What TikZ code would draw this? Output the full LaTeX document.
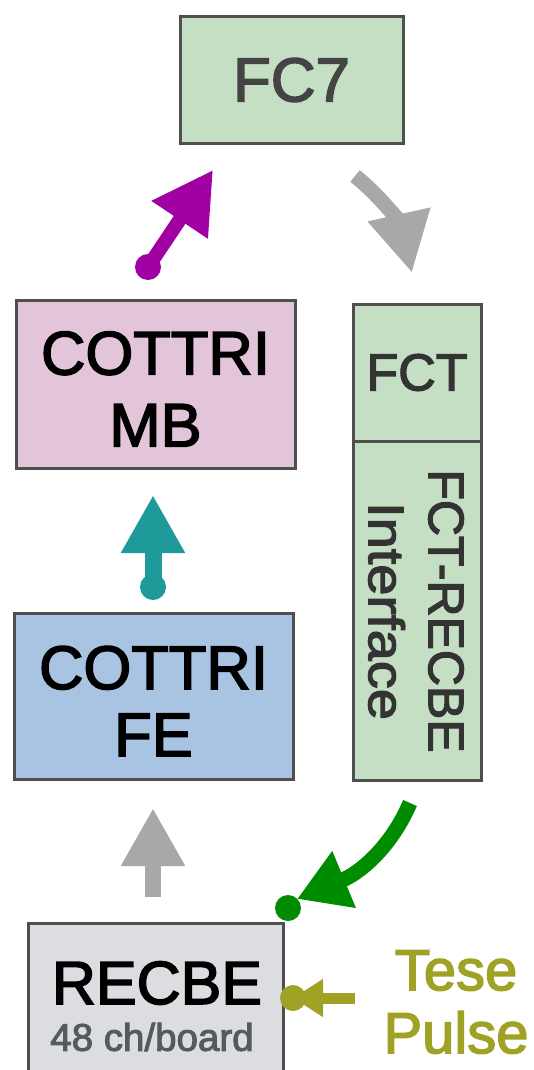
\documentclass[tikz,border=0pt]{standalone}
\usepackage{fontspec}
\setmainfont{Liberation Sans}[BoldFont=Liberation Sans, BoldFeatures={FakeBold=2.5}]
\usetikzlibrary{arrows.meta}
\definecolor{cpurple}{HTML}{A000A4}
\definecolor{cteal}{HTML}{1F9A9A}
\definecolor{cgrayarr}{HTML}{A7A9A9}
\definecolor{cgreen}{HTML}{008C00}
\definecolor{colive}{HTML}{9FA224}
\definecolor{fgreen}{HTML}{C5DFC5}
\definecolor{fpink}{HTML}{E3C5DA}
\definecolor{fblue}{HTML}{A9C4E2}
\definecolor{fgray}{HTML}{DCDDE0}
\definecolor{cborder}{HTML}{4F4F4F}
\definecolor{ctextA}{HTML}{444444}
\definecolor{ctextB}{HTML}{333333}
\definecolor{csub}{HTML}{555A60}
\tikzset{
  blockbox/.style={draw=cborder, line width=3pt, inner sep=0pt, outer sep=0pt, align=center},
  dotnode/.style={circle, inner sep=0pt, outer sep=0pt, minimum size=26pt},
  bigarrow/.style={line width=#1, -{Triangle[length=58pt,width=60pt]}},
}
\begin{document}
\begin{tikzpicture}[x=1pt,y=-1pt]
\useasboundingbox (0,0) rectangle (533,1070);
\clip (0,0) rectangle (533,1070);
% boxes
\node[blockbox, fill=fgreen, minimum width=223pt, minimum height=126pt, text=ctextA, font=\bfseries\fontsize{62}{72}\selectfont] (fc7) at (291.5,80) {FC7};
\node[blockbox, fill=fpink, minimum width=279pt, minimum height=168pt] (mb) at (155.5,384) {};
\node[font=\bfseries\fontsize{61.5}{72}\selectfont, align=center] (mbtext) at (155.5,389) {COTTRI\\MB};
\node[blockbox, fill=fblue, minimum width=279pt, minimum height=166pt] (fe) at (153.5,696) {};
\node[font=\bfseries\fontsize{61.5}{67}\selectfont, align=center] (fetext) at (153.5,701) {COTTRI\\FE};
\node[blockbox, fill=fgreen, minimum width=128pt, minimum height=137pt, text=ctextB, font=\bfseries\fontsize{52}{60}\selectfont] (fct) at (417,372.5) {FCT};
\node[blockbox, fill=fgreen, minimum width=128pt, minimum height=339pt] (fcti) at (417,610.5) {};
\node[rotate=-90, text=ctextB, font=\bfseries\fontsize{50}{60}\selectfont, align=center] (fctitext) at (416,611) {FCT-RECBE\\\addfontfeature{FakeStretch=1.12}Interface};
\node[blockbox, fill=fgray, minimum width=255pt, minimum height=154pt] (recbe) at (155.5,1000) {};
\node[font=\bfseries\fontsize{61}{72}\selectfont] (recbetext) at (157,983) {RECBE};
\node[font=\bfseries\fontsize{38.5}{40}\selectfont, text=csub] (recbesub) at (152,1037) {48 ch/board};
\node[font=\bfseries\fontsize{58}{63}\selectfont, text=colive, align=center] (pulse) at (456,1002) {Tese\\Pulse};
% dots
\node[dotnode, fill=cpurple] (dp) at (148,267) {};
\node[dotnode, fill=cteal] (dt) at (153,587) {};
\node[dotnode, fill=cgreen] (dg) at (288,908) {};
\node[dotnode, fill=colive] (do) at (293,998) {};
% arrow ends
\coordinate (tp) at (213,170);
\coordinate (tt) at (153,495);
\coordinate (gs) at (153,897);
\coordinate (gt) at (153,808);
\coordinate (cs) at (355,176);
\coordinate (ct) at (412,273);
\coordinate (grs) at (410,803);
\coordinate (grt) at (297,899);
\coordinate (os) at (355,998);
% arrows
\draw[cpurple, line width=14pt, -{Triangle[length=60pt,width=64pt]}] (dp.center) -- (tp);
\draw[cteal, bigarrow=17pt] (dt.center) -- (tt);
\draw[cgrayarr, bigarrow=16pt] (gs) -- (gt);
\draw[cgrayarr, line width=15pt, -{Triangle[length=60pt,width=60pt]}] (cs) .. controls (385,200) and (402,228) .. (ct);
\draw[cgreen, line width=15pt, -{Triangle[length=51pt,width=58pt]}] (grs) .. controls (392,845) and (362,872) .. (grt);
\draw[colive, line width=11pt, -{Triangle[length=30pt,width=36pt]}] (os) -- (do.center);
\end{tikzpicture}
\end{document}
